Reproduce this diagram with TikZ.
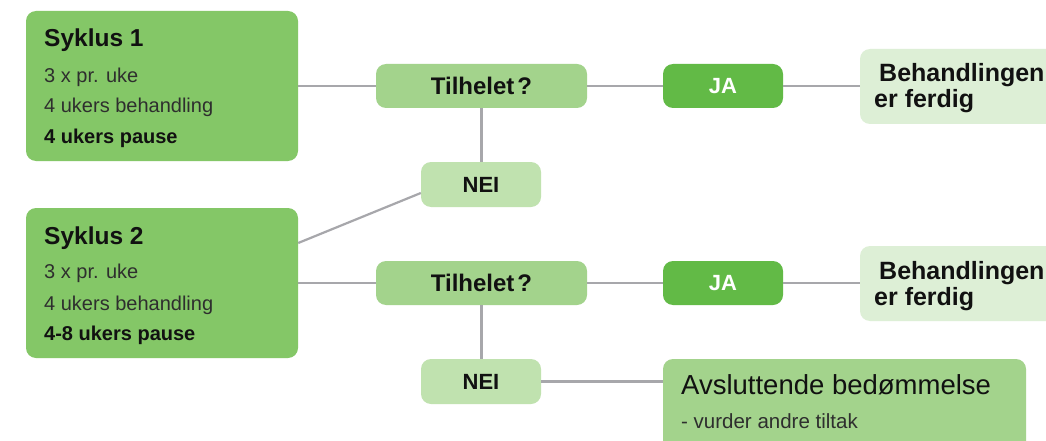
\documentclass[tikz,border=0pt]{standalone}
\usepackage{fontspec}
\setmainfont{Liberation Sans}
\usetikzlibrary{calc}
\definecolor{sykfill}{HTML}{84C767}
\definecolor{midfill}{HTML}{A3D38C}
\definecolor{neifill}{HTML}{C0E2AF}
\definecolor{jafill}{HTML}{62BA46}
\definecolor{endfill}{HTML}{DDEFD6}
\definecolor{linecol}{HTML}{A7A7AB}
\definecolor{subtext}{HTML}{2E2E2E}
\definecolor{titletext}{HTML}{111111}
\tikzset{
  box/.style={rounded corners=10pt, inner sep=0pt, draw=none},
  conn/.style={draw=linecol, line width=2.2pt},
  titlefont/.style={font=\fontsize{24.5}{28}\selectfont\bfseries, text=titletext, inner sep=0pt, anchor=base west},
  subfont/.style={font=\fontsize{20}{23}\selectfont, text=subtext, inner sep=0pt, anchor=base west},
  subbold/.style={font=\fontsize{20}{23}\selectfont\bfseries, text=titletext, inner sep=0pt, anchor=base west},
  qbox/.style={box, fill=midfill, minimum width=211pt, minimum height=44pt, font=\fontsize{24}{27}\selectfont\bfseries, text=titletext},
  jabox/.style={box, fill=jafill, minimum width=120pt, minimum height=44pt, font=\fontsize{22}{24}\selectfont\bfseries, text=white},
  neibox/.style={box, fill=neifill, minimum width=120pt, minimum height=45pt, font=\fontsize{22}{25}\selectfont\bfseries, text=titletext},
  endbox/.style={box, fill=endfill, minimum width=220pt, minimum height=75pt},
  endtext/.style={font=\fontsize{25}{29}\selectfont\bfseries, text=titletext, inner sep=0pt, anchor=base west},
}
\begin{document}
\begin{tikzpicture}[x=1pt,y=-1pt]
\clip (0,0) rectangle (1046,441);
\fill[white] (0,0) rectangle (1046,441);

% boxes
\node[box, fill=sykfill, minimum width=272pt, minimum height=150pt] (s1) at (162,86) {};
\node[box, fill=sykfill, minimum width=272pt, minimum height=150pt] (s2) at (162,283) {};
\node[qbox] (t1) at (481.5,86) {Tilhelet\kern3pt?};
\node[qbox] (t2) at (481.5,283) {Tilhelet\kern3pt?};
\node[jabox] (j1) at (723,86) {JA};
\node[jabox] (j2) at (723,283) {JA};
\node[neibox] (n1) at (481,184.5) {NEI};
\node[neibox] (n2) at (481,381.5) {NEI};
\node[endbox] (b1) at (970,86.5) {};
\node[endbox] (b2) at (970,283.5) {};
\node[box, fill=midfill, minimum width=363pt, minimum height=111pt] (av) at (844.5,414.5) {};

% connectors
\draw[conn] (s1.east) -- (t1.west);
\draw[conn] (t1.east) -- (j1.west);
\draw[conn] (j1.east) -- (b1.west |- j1.east);
\draw[conn] (t1.south) -- (t1.south |- n1.north);
\draw[conn] ($(n1.west)+(0,8.5)$) -- ($(s2.east)+(0,-40)$);
\draw[conn] (s2.east) -- (t2.west);
\draw[conn] (t2.east) -- (j2.west);
\draw[conn] (j2.east) -- (b2.west |- j2.east);
\draw[conn] (t2.south) -- (t2.south |- n2.north);
\draw[conn] (n2.east) -- (n2.east -| av.west);

% texts Syklus 1
\node[titlefont] (s1a) at (44,47) {Syklus 1};
\node[subfont] (s1b) at (44,83) {3 x pr. uke};
\node[subfont] (s1c) at (44,113) {4 ukers behandling};
\node[subbold] (s1d) at (44,143) {4 ukers pause};
% texts Syklus 2
\node[titlefont] (s2a) at (44,244) {Syklus 2};
\node[subfont] (s2b) at (44,278) {3 x pr. uke};
\node[subfont] (s2c) at (44,310) {4 ukers behandling};
\node[subbold] (s2d) at (44,340) {4-8 ukers pause};
% end texts
\node[endtext] (b1a) at (879,82) {Behandlingen};
\node[endtext] (b1b) at (874,108) {er ferdig};
\node[endtext] (b2a) at (879,279) {Behandlingen};
\node[endtext] (b2b) at (874,305) {er ferdig};
\node[font=\fontsize{27.5}{31}\selectfont, text=titletext, inner sep=0pt, anchor=base west] (ava) at (681,394) {Avsluttende bedømmelse};
\node[font=\fontsize{20.5}{24}\selectfont, text=subtext, inner sep=0pt, anchor=base west] (avb) at (681,428) {- vurder andre tiltak};
\end{tikzpicture}
\end{document}
